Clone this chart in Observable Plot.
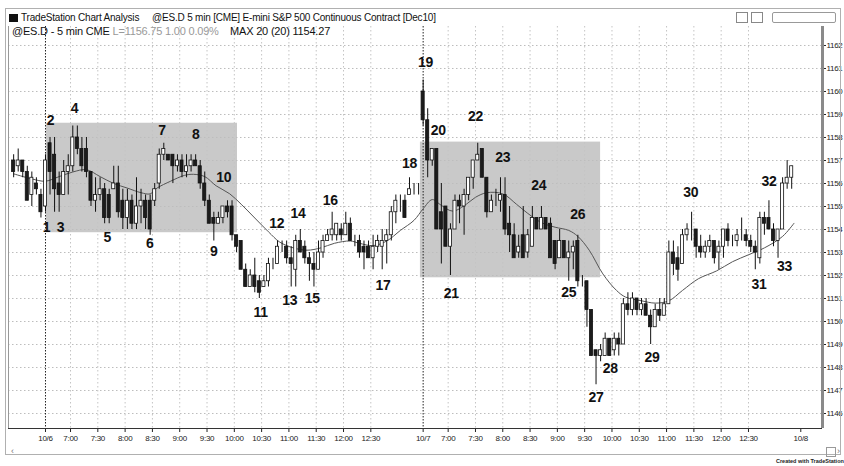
<!DOCTYPE html>
<html>
<head>
<meta charset="utf-8">
<script src="https://cdn.jsdelivr.net/npm/d3@7"></script>
<script src="https://cdn.jsdelivr.net/npm/@observablehq/plot@0.6"></script>
<style>
  html, body { margin: 0; padding: 0; background: #fff; }
  #wrap { position: relative; width: 844px; height: 466px; overflow: hidden; background: #fff;
          font-family: "Liberation Sans", Arial, sans-serif; }
  .abs { position: absolute; white-space: nowrap; }
  #chart { position: absolute; left: 0; top: 26px; }
</style>
</head>
<body>
<div id="wrap">
  <div id="chart"></div>
  <div class="abs" style="left:5px;top:8px;width:836px;height:447px;border:1px solid #b0b0b0;box-sizing:border-box;pointer-events:none"></div>
  <div class="abs" style="left:9px;top:12px;font-size:10px;color:#111;letter-spacing:-0.2px">
    <span style="display:inline-block;width:9px;height:8px;background:#111;margin-right:3px;vertical-align:-1px"></span>TradeStation Chart Analysis&nbsp;&nbsp;&nbsp;&nbsp;&nbsp;@ES.D 5 min [CME] E-mini S&amp;P 500 Continuous Contract [Dec10]
  </div>
  <div class="abs" style="left:736px;top:12px;width:10px;height:9px;border:1px solid #888;"></div>
  <div class="abs" style="left:751px;top:12px;width:10px;height:9px;border:1px solid #888;"></div>
  <div class="abs" style="left:772px;top:12px;width:62px;height:9px;border:1px solid #999;border-radius:2px"></div>
  <div class="abs" style="left:12px;top:25px;font-size:11px;color:#111;letter-spacing:-0.2px">
    @ES.D - 5 min CME <span style="color:#999">L=1156.75 1.00 0.09%</span>&nbsp;&nbsp;&nbsp;&nbsp;MAX 20 (20) 1154.27
  </div>
  <div class="abs" style="left:11px;top:446px;font-size:9px;color:#777">&lsaquo;</div>
  <div class="abs" style="left:826px;top:447px;width:8px;height:8px;border:1px solid #999;"></div>
  <div class="abs" style="left:837px;top:446px;font-size:9px;color:#777">&rsaquo;</div>
  <div class="abs" style="left:776px;top:458px;font-size:5.5px;font-weight:bold;color:#222">Created with TradeStation</div>
</div>
<script>
// ---- data (5-min bars, index 0 = first bar of 10/6 session; first listed bar is index -7) ----
const firstIndex = -7;
const openP = [
 1157.0,1156.75,1157.0,1156.5,1155.5,1156.0,1155.5,
 1155.0,1157.75,1157.25,1156.0,1155.5,1156.5,1156.75,1158.0,1157.5,1157.5,
 1156.5,1155.25,1155.5,1155.75,1155.5,1155.75,1156.0,1155.25,1154.5,1155.25,
 1154.25,1155.0,1155.25,1155.25,1155.25,1156.0,1157.25,1157.25,1157.25,1156.75,
 1157.0,1156.5,1156.75,1157.0,1156.75,1156.0,1155.25,1154.5,1154.25,1154.5,
 1155.0,1155.0,1153.75,1153.5,1152.25,1151.5,1152.0,1151.75,1151.5,1151.75,
 1152.5,1152.5,1153.25,1153.25,1152.75,1152.25,1153.5,1153.25,1152.75,1152.5,
 1152.25,1153.0,1153.5,1153.75,1153.75,1154.0,1153.75,1154.25,1153.5,1153.5,
 1153.25,1153.25,1152.75,1153.25,1153.25,1153.5,1153.75,1154.75,1155.25,1155.25,
 1155.5,1155.75,1155.75,
 1160.0,1158.75,1157.0,1157.5,1154.75,1155.0,1153.25,1154.0,1155.25,1155.0,
 1155.5,1156.25,1157.0,1157.5,1156.25,1154.75,1155.25,1155.25,1155.5,1154.25,
 1153.75,1153.0,1153.75,1153.0,1153.25,1154.5,1154.0,1154.5,1154.25,1153.5,
 1152.75,1153.5,1152.75,1153.0,1153.5,1151.75,1151.75,1150.5,1148.75,1148.5,
 1148.5,1149.25,1148.75,1149.25,1149.0,1150.75,1150.5,1151.0,1150.5,1150.75,
 1150.25,1149.75,1150.5,1150.25,1150.75,1153.0,1152.75,1152.5,1153.75,1154.0,
 1154.0,1153.25,1153.0,1153.25,1153.5,1153.0,1153.25,1154.0,1153.5,1153.5,
 1153.75,1153.75,1153.5,1153.25,1152.75,1154.5,1154.5,1154.0,1153.5,1154.0,
 1156.0,1156.25
];
const highP = [
 1157.25,1157.5,1157.0,1156.75,1156.5,1156.25,1155.75,
 1157.25,1158.0,1158.0,1156.5,1157.0,1157.25,1158.5,1158.5,1158.0,1158.0,
 1156.5,1156.25,1156.25,1156.0,1155.75,1156.75,1156.75,1155.75,1155.75,1155.5,
 1156.25,1155.75,1155.5,1155.5,1156.0,1157.5,1157.75,1157.25,1157.25,1157.25,
 1157.25,1157.25,1157.25,1157.25,1157.0,1156.5,1155.5,1154.75,1154.75,1155.0,
 1155.25,1155.25,1153.75,1153.5,1152.5,1152.25,1152.75,1152.0,1152.0,1152.75,
 1152.75,1153.5,1153.5,1153.5,1153.25,1153.75,1154.0,1153.5,1153.0,1153.0,
 1153.5,1153.75,1154.0,1154.75,1154.25,1154.25,1154.75,1154.5,1153.75,1153.75,
 1153.5,1153.5,1153.75,1153.75,1154.0,1154.0,1155.0,1155.5,1155.5,1155.5,
 1156.25,1156.0,1156.0,
 1160.5,1159.25,1157.5,1157.5,1156.0,1155.0,1154.25,1155.5,1155.5,1155.75,
 1156.25,1157.0,1157.75,1157.5,1156.25,1155.5,1155.75,1156.25,1156.25,1155.0,
 1154.25,1153.75,1155.0,1154.0,1155.0,1154.5,1155.0,1154.5,1154.5,1153.5,
 1154.0,1153.5,1153.5,1153.5,1153.75,1152.0,1151.75,1150.5,1148.75,1149.0,
 1149.5,1149.25,1149.5,1149.5,1151.0,1151.25,1151.25,1151.0,1151.0,1151.0,
 1150.5,1150.75,1151.0,1151.0,1153.5,1153.5,1153.25,1154.0,1154.25,1154.75,
 1154.0,1153.75,1153.5,1153.75,1153.5,1153.5,1154.0,1154.25,1153.75,1154.0,
 1154.5,1154.0,1153.75,1153.5,1154.75,1154.75,1155.25,1154.25,1154.0,1156.25,
 1157.0,1156.75
];
const lowP = [
 1156.25,1156.5,1156.25,1155.25,1155.0,1155.5,1154.5,
 1154.75,1155.5,1154.75,1154.75,1155.5,1155.5,1156.5,1157.25,1156.5,1156.25,
 1155.0,1154.75,1155.25,1154.25,1154.25,1155.75,1154.5,1154.0,1154.0,1154.0,
 1154.0,1154.25,1154.0,1153.75,1155.0,1155.75,1157.0,1157.0,1156.0,1156.5,
 1156.25,1156.25,1156.5,1156.75,1155.75,1155.0,1154.25,1153.5,1154.25,1154.25,
 1154.5,1153.5,1153.0,1152.25,1151.5,1151.5,1151.25,1151.0,1151.5,1151.5,
 1152.25,1152.5,1153.0,1152.5,1151.5,1151.5,1153.0,1152.5,1151.75,1151.5,
 1152.25,1152.75,1153.5,1153.5,1153.5,1153.5,1153.75,1153.5,1153.25,1152.75,
 1152.25,1152.75,1152.25,1153.0,1152.25,1152.5,1153.5,1154.25,1154.75,1154.5,
 1155.5,1155.5,1155.5,
 1158.5,1156.25,1156.75,1154.0,1152.5,1153.25,1152.0,1154.0,1154.25,1153.75,
 1155.25,1155.75,1157.0,1156.25,1154.5,1154.75,1155.0,1154.75,1153.75,1153.0,
 1152.75,1152.75,1152.75,1152.75,1153.25,1154.0,1154.0,1154.0,1152.75,1152.25,
 1152.75,1152.75,1151.75,1152.25,1151.5,1151.5,1149.75,1148.5,1147.25,1148.25,
 1148.5,1148.5,1148.5,1148.5,1149.0,1150.25,1150.25,1150.25,1150.25,1150.25,
 1149.0,1149.75,1150.0,1150.25,1150.75,1152.0,1151.75,1152.5,1153.5,1153.5,
 1152.75,1152.75,1152.75,1153.0,1152.5,1152.25,1152.75,1153.25,1153.25,1153.25,
 1153.5,1153.25,1153.0,1152.25,1152.5,1153.75,1154.0,1153.25,1152.75,1154.0,
 1155.75,1155.75
];
const closeP = [
 1156.5,1157.0,1156.5,1155.25,1156.25,1155.75,1154.75,
 1157.0,1156.5,1155.75,1155.5,1156.5,1156.75,1158.0,1157.5,1156.75,1156.5,
 1155.25,1155.5,1155.75,1154.5,1154.5,1156.0,1154.75,1154.5,1155.25,1154.25,
 1155.0,1155.25,1154.5,1154.0,1155.75,1157.25,1157.5,1157.0,1156.75,1157.0,
 1156.5,1156.75,1157.0,1156.75,1156.0,1155.25,1154.25,1154.25,1154.5,1155.0,
 1154.75,1153.75,1153.25,1152.25,1151.5,1152.0,1151.5,1151.25,1151.75,1152.5,
 1152.5,1153.25,1153.25,1152.75,1152.5,1153.5,1153.0,1152.75,1152.5,1152.25,
 1153.0,1153.5,1153.75,1154.0,1154.25,1153.75,1154.25,1153.5,1153.5,1153.0,
 1153.0,1152.75,1153.25,1153.5,1153.5,1153.75,1154.75,1155.25,1155.25,1154.5,
 1155.75,1155.75,1155.75,
 1158.75,1157.0,1157.5,1154.0,1154.0,1153.25,1154.0,1155.25,1155.0,1155.5,
 1156.25,1157.0,1157.25,1156.25,1154.75,1155.25,1155.25,1155.5,1154.0,1153.75,
 1152.75,1153.25,1152.75,1153.75,1154.5,1154.0,1154.5,1154.0,1152.75,1152.5,
 1153.5,1152.75,1153.0,1153.25,1151.75,1151.75,1150.5,1148.5,1148.5,1148.75,
 1149.25,1148.5,1149.25,1149.0,1150.75,1150.5,1151.0,1150.5,1150.75,1150.25,
 1149.75,1150.5,1150.25,1150.75,1153.0,1152.5,1152.25,1153.75,1154.0,1154.0,
 1153.25,1153.0,1153.25,1153.5,1152.75,1153.25,1154.0,1153.5,1153.5,1153.75,
 1153.75,1153.5,1153.25,1153.0,1154.5,1154.25,1154.0,1153.5,1154.0,1156.0,
 1156.25,1156.75
];

// 20-bar moving average
const maIndex = [-7,-3,0,3,6,9,12,15,18,21,23,24.5,27.5,30.5,32.5,35,37.5,40.5,43,46,
 49,51.5,54.5,57.5,60.5,63.5,67,69,72,75,78,81,83,85,87,89.5,92.5,94.5,97,100.5,
 103.5,106,109,112,115,117,119.5,122.5,125.5,127.5,131,134,137,140,143.5,147.5,151,154.5,158,162,164.5];
const maValue = [1156.42,1156.2,1156.1,1156.3,1156.5,1156.6,1156.3,1156.0,1155.8,1155.6,
 1155.55,1155.8,1156.1,1156.35,1156.4,1156.3,1155.9,1155.55,1155.1,1154.5,
 1153.9,1153.45,1153.2,1153.1,1153.2,1153.4,1153.5,1153.4,1153.3,1153.5,
 1153.96,1154.4,1154.9,1155.3,1155.05,1154.8,1155.1,1155.4,1155.6,1155.55,
 1155.1,1154.7,1154.3,1154.1,1153.96,1153.7,1153.1,1152.07,1151.35,1151.06,
 1150.9,1150.8,1150.9,1151.35,1151.86,1152.2,1152.6,1152.9,1153.2,1153.7,1154.27];

// numbered annotations
const labelText  = ["1","2","3","4","5","6","7","8","9","10","11","12","13","14","15","16","17",
 "18","19","20","21","22","23","24","25","26","27","28","29","30","31","32","33"];
const labelIndex = [0.2,1.1,3.3,6.4,13.6,22.9,25.6,33,37,39.2,47.3,50.8,53.7,55.5,58.6,62.6,74.2,
 80,83.5,86.3,89.2,94.5,100.5,108.4,115,117,121,124.1,133.3,141.8,156.8,159,162.4];
const labelPrice = [1154.1,1158.74,1154.07,1159.25,1153.67,1153.38,1158.3,1158.13,1153.06,1156.28,1150.41,1154.25,1150.91,1154.68,1150.99,1155.26,1151.57,
 1156.86,1161.28,1158.3,1151.2,1158.9,1157.15,1155.9,1151.28,1154.65,1146.7,1147.94,1148.45,1155.6,1151.6,1156.1,1152.4];

// shaded consolidation zones
const zoneStart = [0.2, 82.4];
const zoneEnd   = [42.2, 122];
const zoneLow   = [1153.86, 1151.9];
const zoneHigh  = [1158.62, 1157.8];

// axis ticks
const priceTicks = [1146,1147,1148,1149,1150,1151,1152,1153,1154,1155,1156,1157,1158,1159,1160,1161,1162];
const dayStarts = [0, 83, 166];
const dayLabels = ["10/6", "10/7", "10/8"];
const timeLabels = ["7:00","7:30","8:00","8:30","9:00","9:30","10:00","10:30","11:00","11:30","12:00","12:30"];

// ---- build tables ----
const bars = openP.map((o, k) => ({i: k + firstIndex, o, h: highP[k], l: lowP[k], c: closeP[k]}));
const ma = maIndex.map((x, k) => ({x, y: maValue[k]}));
const notes = labelText.map((t, k) => ({t, x: labelIndex[k], y: labelPrice[k]}));
const zones = zoneStart.map((s, k) => ({x1: s, x2: zoneEnd[k], y1: zoneLow[k], y2: zoneHigh[k]}));
const tickIdx = [], tickName = new Map(), timeTicks = [];
dayStarts.forEach((d, k) => {
  tickIdx.push(d); tickName.set(d, dayLabels[k]);
  if (k < 2) timeLabels.forEach((t, j) => { const x = d + 5.5 + 6 * j; tickIdx.push(x); timeTicks.push(x); tickName.set(x, t); });
});

const xMin = -8.13, xMax = 170.77;
const yMin = 1145.348, yMax = 1162.826;

const chart = Plot.plot({
  width: 844,
  height: 430,
  marginLeft: 8,
  marginRight: 22,
  marginTop: 0,
  marginBottom: 28,
  style: {background: "transparent", fontFamily: "'Liberation Sans', Arial, sans-serif", fontSize: "8px", letterSpacing: "-0.3px", color: "#222", overflow: "visible"},
  x: {type: "linear", domain: [xMin, xMax], ticks: tickIdx, tickFormat: d => tickName.get(d), tickSize: 4, tickPadding: 3, label: null},
  y: {domain: [yMin, yMax], axis: "right", ticks: priceTicks, tickFormat: d => String(d), tickSize: 3, tickPadding: 1, label: null},
  marks: [
    Plot.rect(zones, {x1: "x1", x2: "x2", y1: "y1", y2: "y2", fill: "#c9c9c9"}),
    Plot.ruleY(priceTicks, {stroke: "#bdbdbd", strokeDasharray: "1.5,2.5", strokeWidth: 1}),
    Plot.ruleX(timeTicks, {stroke: "#c4c4c4", strokeDasharray: "1.5,2.5", strokeWidth: 1}),
    Plot.ruleX(dayStarts.slice(0, 2), {stroke: "#222", strokeDasharray: "1.5,1.5", strokeWidth: 1}),
    Plot.line(ma, {x: "x", y: "y", stroke: "#555", strokeWidth: 1, curve: "catmull-rom"}),
    Plot.ruleX(bars, {x: "i", y1: "l", y2: "h", stroke: "#111", strokeWidth: 1}),
    Plot.rect(bars, {
      x1: d => d.i - 0.34, x2: d => d.i + 0.34,
      y1: d => Math.min(d.o, d.c), y2: d => Math.max(d.o, d.c),
      fill: d => d.c > d.o ? "#ffffff" : "#1c1c1c", stroke: "#111", strokeWidth: 0.8
    }),
    Plot.text(notes, {x: "x", y: "y", text: "t", fontSize: 14, fontWeight: "bold", fill: "#111",
      fontFamily: "'Liberation Sans', Arial, sans-serif", letterSpacing: "0px"}),
    Plot.ruleY([yMin], {stroke: "#333", strokeWidth: 1}),
    Plot.ruleX([xMin], {stroke: "#999", strokeWidth: 1}),
    Plot.ruleX([xMax], {stroke: "#8a8a8a", strokeWidth: 3})
  ]
});
document.getElementById("chart").appendChild(chart);
</script>
</body>
</html>
